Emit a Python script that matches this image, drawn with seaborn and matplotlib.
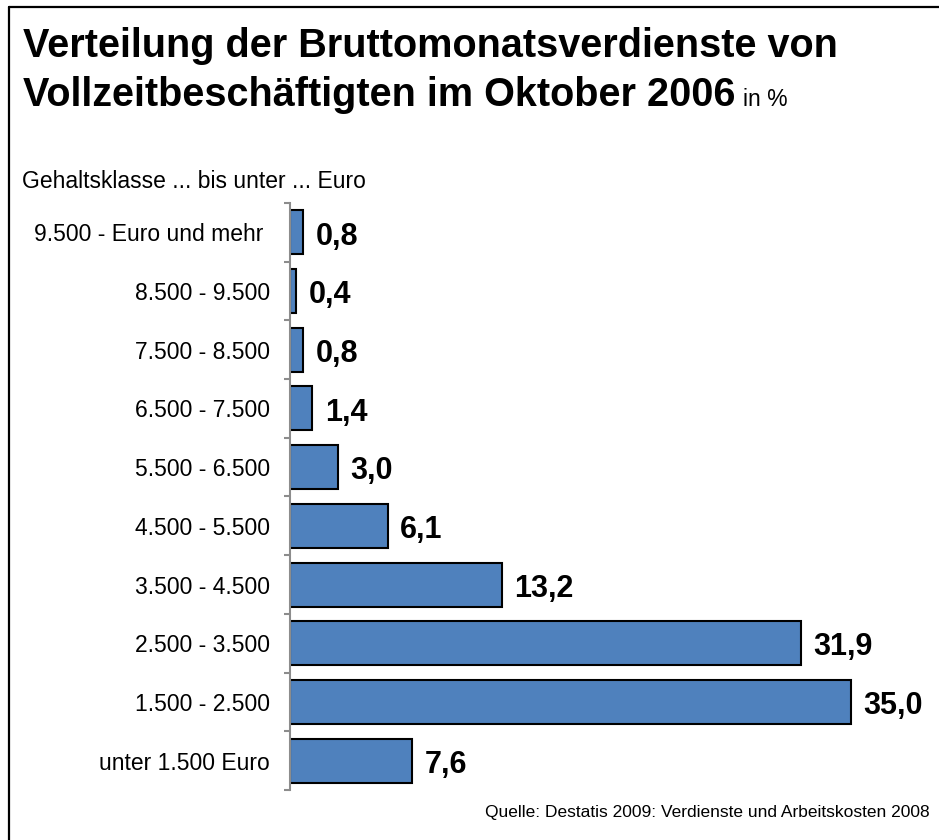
import matplotlib
matplotlib.use("Agg")
import matplotlib.pyplot as plt
import seaborn as sns
import pandas as pd
from matplotlib.lines import Line2D

categories = ["9.500 - Euro und mehr ", "8.500 - 9.500", "7.500 - 8.500", "6.500 - 7.500",
              "5.500 - 6.500", "4.500 - 5.500", "3.500 - 4.500", "2.500 - 3.500",
              "1.500 - 2.500", "unter 1.500 Euro"]
values = [0.8, 0.4, 0.8, 1.4, 3.0, 6.1, 13.2, 31.9, 35.0, 7.6]
value_labels = ["0,8", "0,4", "0,8", "1,4", "3,0", "6,1", "13,2", "31,9", "35,0", "7,6"]

title_line1 = "Verteilung der Bruttomonatsverdienste von"
title_line2 = "Vollzeitbeschäftigten im Oktober 2006"
title_unit = "in %"
axis_caption = "Gehaltsklasse ... bis unter ... Euro"
source = "Quelle: Destatis 2009: Verdienste und Arbeitskosten 2008"

sns.set_theme(style="white")
plt.rcParams['font.family'] = ['Liberation Sans', 'DejaVu Sans']

W, H = 939, 840
fig = plt.figure(figsize=(W / 100, H / 100), dpi=100)
fig.patch.set_facecolor("white")

ax = fig.add_axes([290 / W, 1 - 790 / H, 649 / W, (790 - 203) / H])
df = pd.DataFrame({"cat": categories, "val": values})
sns.barplot(data=df, x="val", y="cat", order=categories, orient="h",
            color="#4F81BD", saturation=1, width=0.75,
            edgecolor="black", linewidth=1.5, ax=ax)

ax.set_xlim(0, 40.5)
ax.set_ylim(9.5, -0.5)
ax.set_xlabel("")
ax.set_ylabel("")
ax.xaxis.set_visible(False)
for s in ["top", "right", "bottom"]:
    ax.spines[s].set_visible(False)
ax.spines["left"].set_color("#8C8C8C")
ax.spines["left"].set_linewidth(1.5)
ax.set_yticks(range(len(categories)))
ax.set_yticklabels(categories, fontsize=16.5, color="black")
ax.set_yticks([i - 0.5 for i in range(len(categories) + 1)], minor=True)
ax.tick_params(axis="y", which="major", length=0, pad=14.4)
ax.tick_params(axis="y", which="minor", length=4.5, width=1.5, color="#8C8C8C", direction="out", left=True)

for i, (v, lab) in enumerate(zip(values, value_labels)):
    ax.annotate(lab, xy=(v, i), xytext=(9, -3), textcoords="offset points",
                ha="left", va="center", fontsize=22, fontweight="bold", color="black")

# titles
t1 = fig.text(23 / W, 1 - 57 / H, title_line1, fontsize=28.5, fontweight="bold",
              ha="left", va="baseline", color="black")
t2 = fig.text(23 / W, 1 - 106 / H, title_line2, fontsize=28.5, fontweight="bold",
              ha="left", va="baseline", color="black")
fig.canvas.draw()
bb = t2.get_window_extent()
fig.text(bb.x1 / W + 8 / W, 1 - 106 / H, title_unit, fontsize=16.5,
         ha="left", va="baseline", color="black")

fig.text(22 / W, 1 - 188 / H, axis_caption, fontsize=16.5, ha="left", va="baseline", color="black")
fig.text(930 / W, 1 - 817 / H, source, fontsize=12.5, ha="right", va="baseline", color="black")

# frame lines
fig.add_artist(Line2D([9 / W, 9 / W], [0, 1 - 7 / H], transform=fig.transFigure, color="black", lw=1.6))
fig.add_artist(Line2D([9 / W, 1], [1 - 7 / H, 1 - 7 / H], transform=fig.transFigure, color="black", lw=1.6))

fig.savefig("out.png", dpi=100)
